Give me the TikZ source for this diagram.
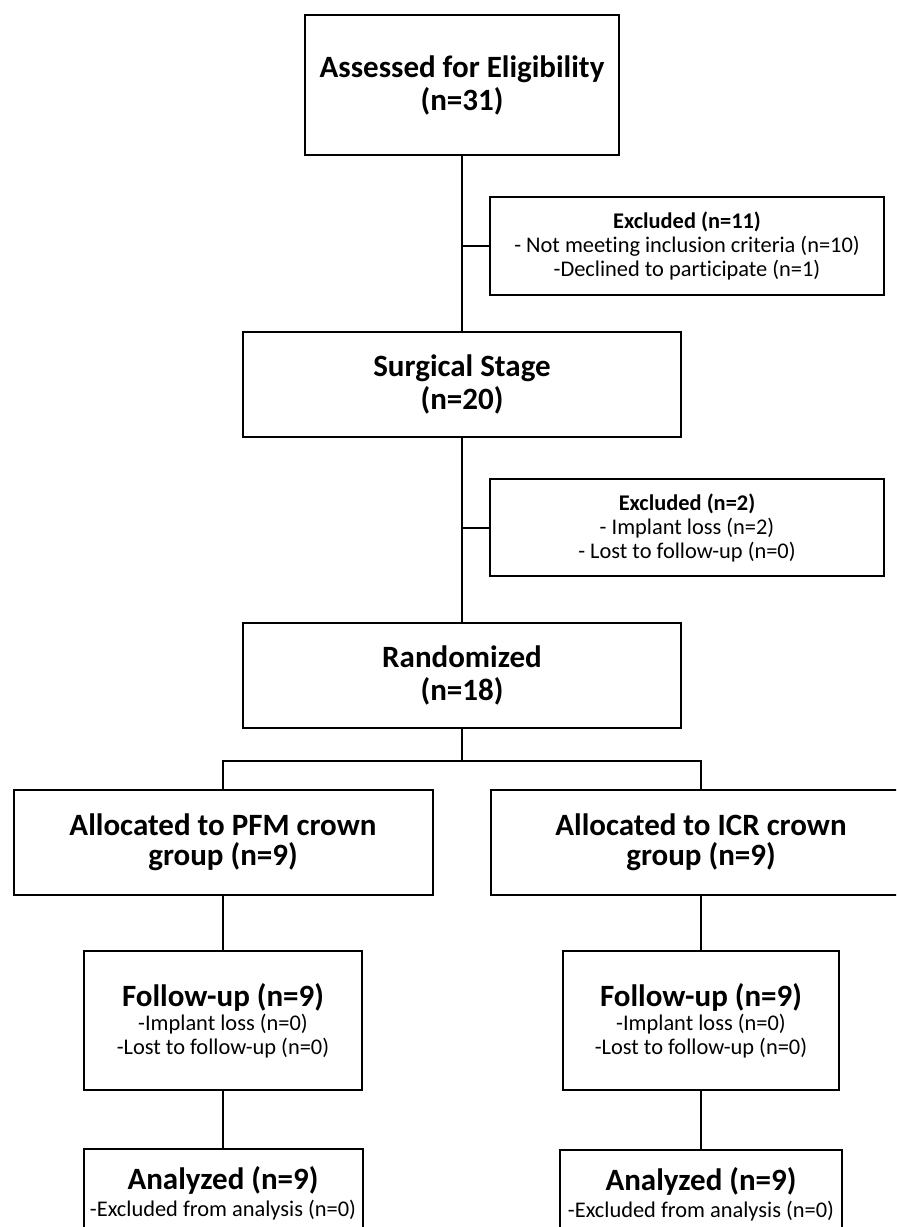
\documentclass[tikz,border=0pt]{standalone}
\usepackage{fontspec}
\setmainfont[Ligatures={TeX,NoCommon}]{Carlito}
\usetikzlibrary{positioning}
\tikzset{
    box/.style={draw=black, line width=1pt, inner sep=0pt, align=center},
    bigtext/.style={font=\fontsize{15.5}{16.5}\selectfont\bfseries},
    smalltext/.style={font=\fontsize{11.2}{12}\selectfont}
}
\newcommand{\boxtitle}[1]{{\fontsize{15.5}{16.5}\selectfont\bfseries #1}}

\begin{document}
\begin{tikzpicture}[x=0.5pt, y=-0.5pt]
    \path[use as bounding box, clip] (0,0) rectangle (896,1227);

    \node[box, bigtext, minimum width=157pt, minimum height=70pt] (ASSESSED) at (462, 85) {Assessed for Eligibility\\(n=31)};
    \node[box, smalltext, minimum width=197pt, minimum height=49pt] (EXCL1) at (687, 246) {\textbf{Excluded (n=11)}\\- Not meeting inclusion criteria (n=10)\\-Declined to participate (n=1)};
    \node[box, bigtext, minimum width=219pt, minimum height=52.5pt] (SURGICAL) at (462, 384.5) {Surgical Stage\\(n=20)};
    \node[box, smalltext, minimum width=197pt, minimum height=48.5pt] (EXCL2) at (687, 527.5) {\textbf{Excluded (n=2)}\\- Implant loss (n=2)\\- Lost to follow-up (n=0)};
    \node[box, bigtext, minimum width=219pt, minimum height=52.5pt] (RANDOM) at (462, 675.5) {Randomized\\(n=18)};
    \coordinate (SPLIT) at (462, 761);

    \node[box, bigtext, minimum width=209.5pt, minimum height=52.5pt] (ALLOC1) at (223, 842.5) {Allocated to PFM crown\\[-1.5pt]group (n=9)};
    \node[box, bigtext, minimum width=210pt, minimum height=52.5pt] (ALLOC2) at (701, 842.5) {Allocated to ICR crown\\[-1.5pt]group (n=9)};

    \node[box, smalltext, minimum width=139pt, minimum height=69.5pt] (FOLLOW1) at (223, 1020.5) {\boxtitle{Follow-up (n=9)}\\-Implant loss (n=0)\\-Lost to follow-up (n=0)};
    \node[box, smalltext, minimum width=138pt, minimum height=69.5pt] (FOLLOW2) at (701, 1020.5) {\boxtitle{Follow-up (n=9)}\\-Implant loss (n=0)\\-Lost to follow-up (n=0)};

    \node[box, smalltext, minimum width=139.5pt, minimum height=44pt] (ANALYZED1) at (223, 1193) {\boxtitle{Analyzed (n=9)}\\[1.5pt]-Excluded from analysis (n=0)};
    \node[box, smalltext, minimum width=141pt, minimum height=44pt] (ANALYZED2) at (701, 1194) {\boxtitle{Analyzed (n=9)}\\[1.5pt]-Excluded from analysis (n=0)};

    \draw[black, line width=1pt] (ASSESSED) -- (SURGICAL);
    \draw[black, line width=1pt] (ASSESSED.south |- EXCL1.west) -- (EXCL1.west);
    \draw[black, line width=1pt] (SURGICAL) -- (RANDOM);
    \draw[black, line width=1pt] (SURGICAL.south |- EXCL2.west) -- (EXCL2.west);

    \draw[black, line width=1pt] (RANDOM) -- (SPLIT);
    \draw[black, line width=1pt] (ALLOC1.north) |- (SPLIT) -| (ALLOC2.north);

    \draw[black, line width=1pt] (ALLOC1) -- (FOLLOW1);
    \draw[black, line width=1pt] (ALLOC2) -- (FOLLOW2);
    \draw[black, line width=1pt] (FOLLOW1) -- (ANALYZED1);
    \draw[black, line width=1pt] (FOLLOW2) -- (ANALYZED2);

    % \draw[help lines] (0,0) grid[step=50] (896,1227);
\end{tikzpicture}
\end{document}
